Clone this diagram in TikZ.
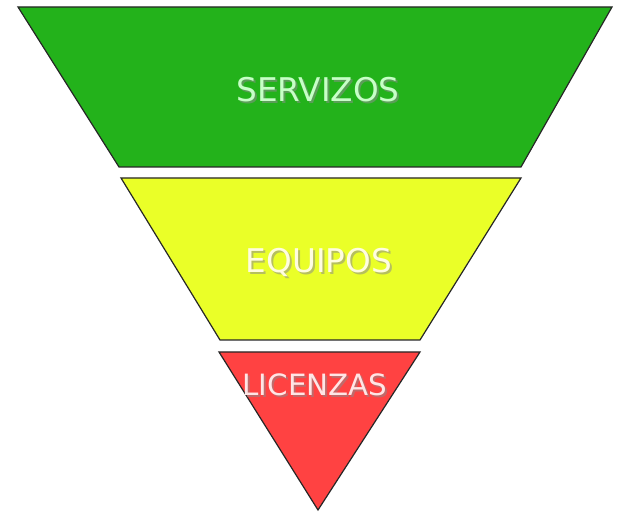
\documentclass[tikz,border=0pt]{standalone}
\usepackage{fontspec}
\setmainfont{DejaVu Sans}
\usepackage{xcolor}
\usepackage{tikz}
\usetikzlibrary{positioning}
\definecolor{servgreen}{RGB}{35,178,27}
\definecolor{equipyellow}{RGB}{234,255,40}
\definecolor{licred}{RGB}{255,66,66}
\tikzset{
  layer/.style={draw=black!85,line width=0.9pt,line join=miter},
  lbl/.style={inner sep=0pt,font=\fontsize{24.5}{28}\selectfont},
  shd/.style={lbl,text=black!45,opacity=0.55},
}

\begin{document}
\begin{tikzpicture}[x=0.75pt,y=-0.75pt]
\useasboundingbox (0,0) rectangle (618,513);
% top layer: servizos
\draw[layer,fill=servgreen] (18,7)--(612,7)--(521,167)--(119,167)--cycle;
\node[shd] (servizos-sh) at (320,92) {SERVIZOS};
\node[lbl,text=green!22!white] (servizos) at (318,90) {SERVIZOS};
% middle layer: equipos
\draw[layer,fill=equipyellow] (121,178)--(521,178)--(420,340)--(220,340)--cycle;
\node[shd] (equipos-sh) at (321,264) {EQUIPOS};
\node[lbl,text=yellow!12!white] (equipos) at (319,262) {EQUIPOS};
% bottom layer: licenzas
\draw[layer,fill=licred] (219,352)--(420,352)--(318,510)--cycle;
\node[shd,font=\fontsize{22}{26}\selectfont] (licenzas-sh) at (317,387) {LICENZAS};
\node[lbl,font=\fontsize{22}{26}\selectfont,text=red!10!white] (licenzas) at (315,385) {LICENZAS};
\end{tikzpicture}
\end{document}
